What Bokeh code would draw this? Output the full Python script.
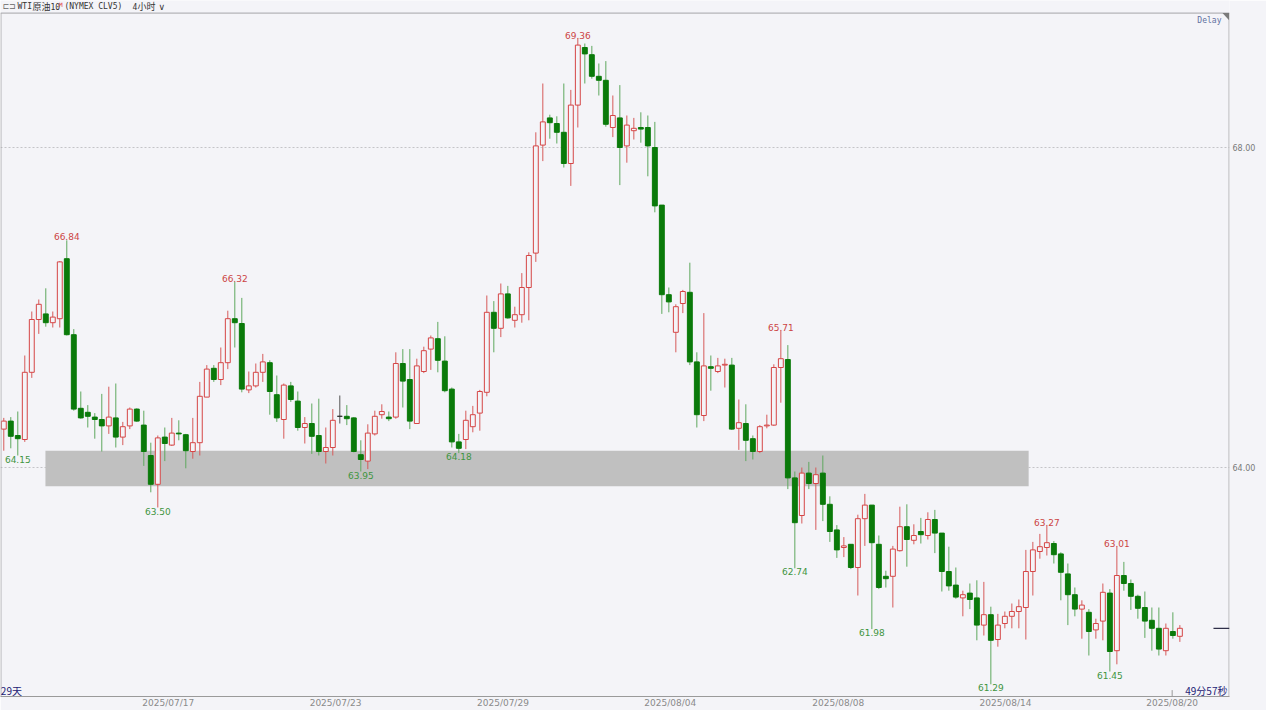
from bokeh.plotting import figure
from bokeh.models import FixedTicker, Range1d, PrintfTickFormatter
from bokeh.core.properties import value
from bokeh.embed import file_html
from bokeh.resources import INLINE

# ---------------- data (4h candles, WTI CLV5) ----------------
opens = [
    64.48, 64.58, 64.40, 64.35, 65.19, 65.85, 65.92, 65.81, 65.86, 66.61,
    65.66, 64.74, 64.69, 64.63, 64.60, 64.52, 64.62, 64.38, 64.52, 64.73,
    64.53, 64.15, 63.79, 64.38, 64.28, 64.43, 64.41, 64.20, 64.31, 64.88,
    65.24, 65.10, 65.31, 65.86, 65.80, 64.97, 65.02, 65.19, 65.31, 64.91,
    64.60, 65.02, 64.83, 64.50, 64.55, 64.40, 64.20, 64.25, 64.64, 64.64,
    64.62, 64.16, 64.08, 64.42, 64.66, 64.63, 64.63, 65.30, 65.10, 64.55,
    65.20, 65.48, 65.61, 65.33, 64.98, 64.32, 64.35, 64.51, 64.68, 64.94,
    65.94, 65.74, 66.17, 65.84, 65.91, 66.25, 66.68, 68.03, 68.37, 68.30,
    68.19, 67.80, 68.53, 69.25, 69.16, 68.89, 68.84, 68.25, 68.37, 68.02,
    68.21, 68.25, 68.25, 68.00, 67.28, 66.16, 65.69, 66.05, 66.19, 65.32,
    64.65, 65.26, 65.20, 65.28, 65.28, 64.49, 64.55, 64.36, 64.20, 64.52,
    64.53, 65.25, 65.35, 63.87, 63.40, 63.93, 63.80, 63.93, 63.54, 63.22,
    63.00, 63.04, 62.75, 63.36, 63.53, 63.04, 62.64, 62.64, 62.96, 63.26,
    63.09, 63.20, 63.15, 63.35, 63.18, 62.70, 62.53, 62.37, 62.43, 62.37,
    62.03, 62.16, 61.85, 62.05, 62.14, 62.20, 62.25, 62.70, 62.95, 63.00,
    63.05, 62.92, 62.67, 62.41, 62.23, 62.19, 61.97, 62.08, 62.43, 61.71,
    62.65, 62.55, 62.39, 62.25, 62.09, 61.99, 61.71, 61.95, 61.89,
]
closes = [
    64.58, 64.39, 64.36, 65.19, 65.85, 66.04, 65.81, 65.88, 66.57, 65.66,
    64.73, 64.62, 64.64, 64.60, 64.52, 64.63, 64.38, 64.51, 64.73, 64.58,
    64.20, 63.79, 64.37, 64.30, 64.43, 64.42, 64.21, 64.31, 64.89, 65.23,
    65.10, 65.31, 65.86, 65.81, 64.98, 65.02, 65.19, 65.32, 64.95, 64.62,
    65.03, 64.85, 64.50, 64.55, 64.39, 64.20, 64.25, 64.59, 64.64, 64.61,
    64.20, 64.10, 64.43, 64.64, 64.70, 64.61, 65.30, 65.08, 64.58, 65.27,
    65.46, 65.62, 65.34, 64.96, 64.32, 64.24, 64.59, 64.66, 64.95, 65.94,
    65.74, 66.17, 65.87, 65.91, 66.25, 66.65, 68.02, 68.32, 68.31, 68.19,
    67.80, 68.53, 69.28, 69.17, 68.89, 68.84, 68.29, 68.40, 68.00, 68.28,
    68.24, 68.23, 68.02, 67.27, 66.16, 66.07, 66.01, 66.20, 65.32, 64.66,
    65.27, 65.24, 65.27, 65.29, 64.48, 64.56, 64.34, 64.20, 64.51, 64.53,
    65.25, 65.36, 63.87, 63.31, 63.93, 63.80, 63.91, 63.54, 63.20, 62.97,
    63.02, 62.75, 63.36, 63.53, 63.06, 62.50, 62.61, 62.98, 63.26, 63.10,
    63.15, 63.16, 63.35, 63.18, 62.70, 62.52, 62.38, 62.41, 62.35, 62.03,
    62.16, 61.84, 62.03, 62.14, 62.20, 62.26, 62.70, 62.97, 63.01, 63.06,
    62.91, 62.69, 62.41, 62.23, 62.28, 61.95, 62.05, 62.44, 61.70, 62.65,
    62.55, 62.39, 62.24, 62.08, 61.99, 61.73, 61.99, 61.90, 61.99,
]
highs = [
    64.62, 64.63, 64.70, 65.40, 65.95, 66.10, 66.24, 65.95, 66.58, 66.84,
    65.73, 64.95, 64.78, 64.68, 64.92, 65.01, 65.05, 64.57, 64.75, 64.74,
    64.71, 64.31, 64.40, 64.50, 64.62, 64.59, 64.42, 64.62, 65.07, 65.28,
    65.28, 65.50, 65.96, 66.32, 66.12, 65.20, 65.30, 65.42, 65.34, 65.15,
    65.05, 65.07, 64.95, 64.63, 64.80, 64.86, 64.50, 64.73, 64.90, 64.78,
    64.63, 64.34, 64.54, 64.71, 64.79, 64.70, 65.44, 65.48, 65.48, 65.36,
    65.51, 65.65, 65.82, 65.64, 65.00, 64.42, 64.71, 64.77, 64.97, 66.15,
    66.08, 66.30, 66.27, 66.01, 66.43, 66.69, 68.19, 68.80, 68.41, 68.39,
    68.80, 68.72, 69.36, 69.30, 69.27, 69.05, 69.08, 68.65, 68.78, 68.40,
    68.37, 68.44, 68.40, 68.32, 67.28, 66.25, 66.04, 66.22, 66.56, 65.44,
    65.93, 65.40, 65.37, 65.36, 65.37, 64.85, 64.79, 64.40, 64.53, 64.66,
    65.29, 65.71, 65.53, 63.95, 64.00, 64.07, 64.00, 64.15, 63.64, 63.28,
    63.13, 63.04, 63.41, 63.67, 63.53, 63.15, 62.71, 63.02, 63.51, 63.54,
    63.29, 63.37, 63.44, 63.47, 63.18, 63.01, 62.75, 62.46, 62.55, 62.59,
    62.57, 62.26, 62.17, 62.20, 62.30, 62.35, 62.97, 63.07, 63.17, 63.27,
    63.08, 62.94, 62.80, 62.50, 62.34, 62.23, 62.11, 62.55, 62.48, 63.01,
    62.82, 62.60, 62.41, 62.45, 62.25, 62.25, 62.05, 62.19, 62.03,
]
lows = [
    64.21, 64.24, 64.15, 64.32, 65.12, 65.67, 65.76, 65.75, 65.75, 65.65,
    64.71, 64.61, 64.50, 64.36, 64.20, 64.42, 64.25, 64.28, 64.48, 64.57,
    64.02, 63.69, 63.50, 64.08, 64.27, 64.34, 63.99, 64.11, 64.15, 64.88,
    65.07, 65.03, 65.23, 65.50, 64.94, 64.93, 65.00, 65.07, 64.66, 64.57,
    64.36, 64.82, 64.46, 64.30, 64.17, 64.15, 64.05, 64.15, 64.55, 64.53,
    64.19, 63.95, 63.98, 64.40, 64.61, 64.58, 64.61, 64.75, 64.48, 64.55,
    65.18, 65.22, 65.19, 64.94, 64.25, 64.18, 64.23, 64.44, 64.46, 64.89,
    65.44, 65.63, 65.86, 65.75, 65.81, 65.84, 66.57, 67.83, 68.11, 68.05,
    67.75, 67.52, 68.25, 68.80, 68.86, 68.65, 68.26, 68.13, 67.53, 67.81,
    68.10, 68.06, 67.64, 67.19, 65.92, 65.94, 65.44, 65.93, 65.28, 64.50,
    64.58, 64.96, 65.18, 65.00, 64.47, 64.22, 64.08, 64.10, 64.18, 64.49,
    64.52, 64.81, 63.73, 62.74, 63.30, 63.73, 63.22, 63.33, 63.07, 62.87,
    62.88, 62.73, 62.40, 63.02, 61.98, 62.48, 62.50, 62.25, 62.95, 62.76,
    63.04, 63.05, 63.10, 62.93, 62.45, 62.46, 62.36, 62.14, 62.23, 61.84,
    61.90, 61.29, 61.76, 61.99, 61.99, 61.99, 61.85, 62.40, 62.86, 62.90,
    62.80, 62.34, 62.03, 62.14, 61.86, 61.65, 61.86, 61.84, 61.45, 61.54,
    62.46, 62.22, 62.11, 61.87, 61.71, 61.65, 61.65, 61.86, 61.82,
]

# bars marked with their high / low value
high_marks = [9, 33, 82, 111, 149, 159]
low_marks = [2, 22, 51, 65, 113, 124, 141, 158]

# date axis
date_ticks = [23.5, 47.4, 71.3, 95.2, 119.2, 143.1, 166.9]
date_labels = ["2025/07/17", "2025/07/23", "2025/07/29", "2025/08/04",
               "2025/08/08", "2025/08/14", "2025/08/20"]
price_ticks = [64, 68]

# support zone (bar index range, price range)
zone_x = [5.95, 146.4]
zone_price = [63.765, 64.21]

# ---------------- figure ----------------
BG = "#f4f4f8"
X0, X1 = -0.47, 175.09
Y0, Y1 = 61.1375, 69.8375
HEADER_LINE = 69.68

p = figure(width=1266, height=710,
           x_range=Range1d(X0, X1), y_range=Range1d(Y0, Y1),
           y_axis_location="right", output_backend="svg",
           toolbar_location=None,
           min_border_left=0, min_border_top=0,
           min_border_right=37, min_border_bottom=14,
           background_fill_color=BG, border_fill_color=BG,
           outline_line_color=None)

p.xgrid.visible = False
p.ygrid.ticker = FixedTicker(ticks=price_ticks)
p.ygrid.grid_line_color = "#c4c4c8"
p.ygrid.grid_line_dash = "2 2"

xa = p.xaxis[0]
xa.ticker = FixedTicker(ticks=date_ticks)
xa.major_label_overrides = {t: l for t, l in zip(date_ticks, date_labels)}
xa.major_tick_line_color = None
xa.minor_tick_line_color = None
xa.major_tick_in = 0
xa.major_tick_out = 0
xa.minor_tick_in = 0
xa.minor_tick_out = 0
xa.axis_line_color = "#9a9a9a"
xa.major_label_text_color = "#8a8a8a"
xa.major_label_text_font = "DejaVu Sans"
xa.major_label_text_font_size = "9px"
xa.major_label_standoff = 1

ya = p.yaxis[0]
ya.ticker = FixedTicker(ticks=price_ticks)
ya.formatter = PrintfTickFormatter(format="%.2f")
ya.axis_line_color = None
ya.major_tick_line_color = None
ya.minor_tick_line_color = None
ya.major_tick_in = 0
ya.major_tick_out = 0
ya.minor_tick_in = 0
ya.minor_tick_out = 0
ya.major_label_text_color = "#7a7a7a"
ya.major_label_text_font = "DejaVu Sans"
ya.major_label_text_font_size = "8px"
ya.major_label_standoff = 3

# support zone
p.quad(left=[zone_x[0]], right=[zone_x[1]], bottom=[zone_price[0]], top=[zone_price[1]],
       fill_color="#c0c0c0", line_color=None)

# candles
n = len(opens)
idx = list(range(n))
RED, RED_W = "#d54545", "#d65a5a"
GRN, GRN_W = "#0a7a0a", "#5ea85e"
wick_c, line_c, fill_c, tops, bots = [], [], [], [], []
for o, c in zip(opens, closes):
    if c > o:
        wick_c.append(RED_W); line_c.append(RED); fill_c.append(BG)
    elif c < o:
        wick_c.append(GRN_W); line_c.append(GRN); fill_c.append(GRN)
    else:
        wick_c.append("#555555"); line_c.append("#333333"); fill_c.append("#333333")
    tops.append(max(o, c)); bots.append(min(o, c))

p.segment(x0=idx, y0=lows, x1=idx, y1=highs, line_color=wick_c, line_width=1)
p.vbar(x=idx, width=0.7, top=tops, bottom=bots, fill_color=fill_c,
       line_color=line_c, line_width=1)

# high / low markers
p.text(x=high_marks, y=[highs[i] for i in high_marks],
       text=["%.2f" % highs[i] for i in high_marks],
       text_align="center", text_baseline="bottom",
       text_font=value("DejaVu Sans"), text_font_size="9px", text_color="#cc4444")
p.text(x=low_marks, y=[lows[i] for i in low_marks],
       text=["%.2f" % lows[i] for i in low_marks],
       text_align="center", text_baseline="top",
       text_font=value("DejaVu Sans"), text_font_size="9px", text_color="#3f953f")

# frame borders
BORDER = "#a4a4a8"
p.segment(x0=[X0, X0 + 0.06, X1 - 0.06], y0=[HEADER_LINE, HEADER_LINE, HEADER_LINE],
          x1=[X1, X0 + 0.06, X1 - 0.06], y1=[HEADER_LINE, Y0, Y0],
          line_color=BORDER, line_width=1)
p.patch(x=[X1 - 1.0, X1 - 0.06, X1 - 0.06], y=[HEADER_LINE, HEADER_LINE, HEADER_LINE - 0.09],
        fill_color="#7a7a7a", line_color=None)

# last price marker and time tick
p.segment(x0=[172.8], y0=[closes[-1]], x1=[X1], y1=[closes[-1]],
          line_color="#2e2e48", line_width=1.2)
p.segment(x0=[date_ticks[-1]], y0=[Y0], x1=[date_ticks[-1]], y1=[Y0 + 0.08],
          line_color="#9a9a9a", line_width=1)

# header
HY = 69.7625
mono = value("DejaVu Sans Mono")
cjk = value("Noto Sans CJK SC")
p.text(x=[-0.2], y=[HY], text=["⊏⊐"], text_font=value("DejaVu Sans"),
       text_font_size="8px", text_color="#666666", text_baseline="middle")
p.text(x=[1.96, 6.67, 8.67, 18.39], y=[HY] * 4, text=["WTI", "10", "(NYMEX CLV5)", "4"],
       text_font=mono, text_font_size="8px", text_color="#333333", text_baseline="middle")
p.text(x=[4.1, 19.1], y=[HY, HY], text=["原油", "小时"], text_font=cjk,
       text_font_size="9px", text_color="#333333", text_baseline="middle")
p.text(x=[7.9], y=[HY + 0.03], text=["M"], text_font=mono, text_font_size="6px",
       text_color="#e04040", text_baseline="middle")
p.text(x=[22.1], y=[HY], text=["∨"], text_font=value("DejaVu Sans"),
       text_font_size="9px", text_color="#333333", text_baseline="middle")

p.text(x=[170.5], y=[69.5875], text=["Delay"], text_font=mono, text_font_size="8px",
       text_color="#6070a0", text_baseline="middle")
p.text(x=[X0 + 0.05], y=[61.2125], text=["29天"], text_font=cjk, text_font_size="10px",
       text_color="#1d2275", text_baseline="middle", text_align="left")
p.text(x=[174.8], y=[61.2125], text=["49分57秒"], text_font=cjk, text_font_size="10px",
       text_color="#1d2275", text_baseline="middle", text_align="right")

open("out.html", "w").write(file_html(p, INLINE))
